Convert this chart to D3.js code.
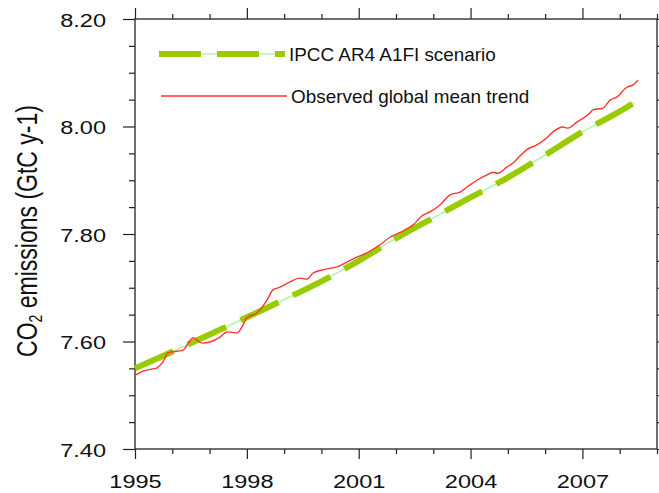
<!DOCTYPE html>
<html>
<head>
<meta charset="utf-8">
<script src="https://cdn.jsdelivr.net/npm/d3@7"></script>
<style>
	body { margin: 0; background: #fff; }
	svg { display: block; font-family: "Liberation Sans", Arial, Helvetica, sans-serif; }
</style>
</head>
<body>
<svg id="chart" width="659" height="493"></svg>
<script>
// Scenario (IPCC AR4 A1FI)
var scenarioYears = [1995, 1996, 1997, 1998, 1999, 2000, 2001, 2002, 2003, 2004, 2005, 2006, 2007, 2008, 2008.4];
var scenarioValues = [7.550, 7.581, 7.613, 7.645, 7.678, 7.712, 7.750, 7.792, 7.830, 7.868, 7.905, 7.947, 7.990, 8.028, 8.045];

// Observed global mean trend
var observedYears = [1995.03, 1995.21, 1995.48, 1995.59, 1995.75, 1995.88, 1996.29, 1996.56, 1996.80, 1997.01,
	1997.28, 1997.47, 1997.74, 1997.87, 1998.00, 1998.27, 1998.54, 1998.70, 1998.89, 1999.16,
	1999.42, 1999.61, 1999.77, 2000.15, 2000.42, 2000.69, 2000.95, 2001.22, 2001.57, 2001.84,
	2002.11, 2002.46, 2002.72, 2002.91, 2003.18, 2003.45, 2003.72, 2003.90, 2004.17, 2004.44,
	2004.60, 2004.73, 2004.98, 2005.14, 2005.32, 2005.51, 2005.78, 2006.05, 2006.21, 2006.48,
	2006.61, 2006.85, 2007.20, 2007.28, 2007.55, 2007.74, 2007.93, 2008.19, 2008.35, 2008.49];
var observedValues = [7.538, 7.545, 7.549, 7.551, 7.562, 7.579, 7.584, 7.607, 7.597, 7.599,
	7.608, 7.618, 7.616, 7.627, 7.644, 7.653, 7.677, 7.696, 7.701, 7.711,
	7.718, 7.716, 7.727, 7.735, 7.739, 7.748, 7.757, 7.765, 7.780, 7.794,
	7.803, 7.817, 7.835, 7.841, 7.854, 7.873, 7.878, 7.887, 7.900, 7.910,
	7.915, 7.913, 7.925, 7.932, 7.945, 7.957, 7.966, 7.979, 7.990, 7.999,
	7.997, 8.008, 8.025, 8.031, 8.034, 8.049, 8.055, 8.073, 8.077, 8.086];

var xMajorTicks = [1995, 1998, 2001, 2004, 2007];
var xMinorTicks = [1996, 1997, 1999, 2000, 2002, 2003, 2005, 2006, 2008, 2009];
var yMajorTicks = [7.40, 7.60, 7.80, 8.00, 8.20];
var yMinorTicks = [7.45, 7.50, 7.55, 7.65, 7.70, 7.75, 7.85, 7.90, 7.95, 8.05, 8.10, 8.15];

var legendNames = ["IPCC AR4 A1FI scenario", "Observed global mean trend"];

var plot = { left: 135, right: 657, top: 19, bottom: 449 };
var svg = d3.select("#chart");

var x = d3.scaleLinear().domain([1995, 2009]).range([plot.left, plot.right]);
var y = d3.scaleLinear().domain([7.4, 8.2]).range([plot.bottom, plot.top]);

function toPoints(xs, ys) {
	return xs.map(function(d, i) { return [d, ys[i]]; });
}

var line = d3.line()
	.x(function(d) { return x(d[0]); })
	.y(function(d) { return y(d[1]); })
	.curve(d3.curveMonotoneX);

// Axes: major and minor ticks, drawn outward on all four sides
function drawAxis(axisFn, scale, values, size, translate, labels) {
	var a = axisFn(scale).tickValues(values).tickSize(size).tickSizeOuter(0);
	if (!labels) a.tickFormat("");
	var g = svg.append("g").attr("transform", translate).call(a);
	g.select(".domain").remove();
	g.selectAll(".tick line").attr("stroke", "#222").attr("stroke-width", 1.2);
	return g;
}

var bottom = drawAxis(d3.axisBottom, x, xMajorTicks, 10, "translate(0," + plot.bottom + ")", true);
drawAxis(d3.axisBottom, x, xMinorTicks, 5, "translate(0," + plot.bottom + ")", false);
drawAxis(d3.axisTop, x, xMajorTicks, 11, "translate(0," + plot.top + ")", false);
drawAxis(d3.axisTop, x, xMinorTicks, 5, "translate(0," + plot.top + ")", false);

var left = drawAxis(d3.axisLeft, y, yMajorTicks, 12, "translate(" + plot.left + ",0)", true);
drawAxis(d3.axisLeft, y, yMinorTicks, 6, "translate(" + plot.left + ",0)", false);
drawAxis(d3.axisRight, y, yMajorTicks, 11, "translate(" + plot.right + ",0)", false);
drawAxis(d3.axisRight, y, yMinorTicks, 5, "translate(" + plot.right + ",0)", false);

bottom.selectAll(".tick text")
	.text(function(d) { return d3.format("d")(d); })
	.attr("x", null).attr("y", null).attr("dy", null)
	.attr("transform", "translate(0,39) scale(1.24,1)")
	.attr("font-size", 19).attr("fill", "#111").attr("font-family", null);

left.selectAll(".tick text")
	.text(function(d) { return d3.format(".2f")(d); })
	.attr("x", null).attr("dy", null)
	.attr("transform", "translate(-29,7) scale(1.24,1)")
	.attr("font-size", 19).attr("fill", "#111").attr("font-family", null);

// Plot frame
svg.append("rect")
	.attr("x", plot.left).attr("y", plot.top)
	.attr("width", plot.right - plot.left).attr("height", plot.bottom - plot.top)
	.attr("fill", "none").attr("stroke", "#333").attr("stroke-width", 1.4);

// Y title with subscript
var title = svg.append("text")
	.attr("transform", "translate(37,231) scale(1.28,1) rotate(-90)")
	.attr("text-anchor", "middle")
	.attr("font-size", 23).attr("fill", "#111");
title.append("tspan").text("CO");
title.append("tspan").text("2").attr("font-size", 14).attr("dy", 4);
title.append("tspan").text(" emissions (GtC y-1)").attr("dy", -4);

// Series
var scenario = toPoints(scenarioYears, scenarioValues);
var observed = toPoints(observedYears, observedValues);

svg.append("path").attr("d", line(scenario))
	.attr("fill", "none").attr("stroke", "#b6f2b0").attr("stroke-width", 1.6);
svg.append("path").attr("d", line(scenario))
	.attr("fill", "none").attr("stroke", "#99cc00").attr("stroke-width", 6)
	.attr("stroke-dasharray", "42,16");
svg.append("path").attr("d", line(observed))
	.attr("fill", "none").attr("stroke", "#ff3333").attr("stroke-width", 1.4);

// Legend
var lg = svg.append("g");
lg.append("line").attr("x1", 159).attr("x2", 285).attr("y1", 54).attr("y2", 54)
	.attr("stroke", "#b6f2b0").attr("stroke-width", 1.6);
lg.append("line").attr("x1", 159).attr("x2", 285).attr("y1", 54).attr("y2", 54)
	.attr("stroke", "#99cc00").attr("stroke-width", 6).attr("stroke-dasharray", "42,16");
lg.append("line").attr("x1", 161).attr("x2", 287).attr("y1", 96).attr("y2", 96)
	.attr("stroke", "#ff3333").attr("stroke-width", 1.4);

lg.selectAll("text.legend").data(legendNames).enter().append("text")
	.attr("class", "legend")
	.attr("transform", function(d, i) { return "translate(" + (i === 0 ? 289 : 291) + "," + (i === 0 ? 61 : 103) + ") scale(1.08,1)"; })
	.attr("font-size", 17.5).attr("fill", "#111")
	.text(function(d) { return d; });
</script>
</body>
</html>
